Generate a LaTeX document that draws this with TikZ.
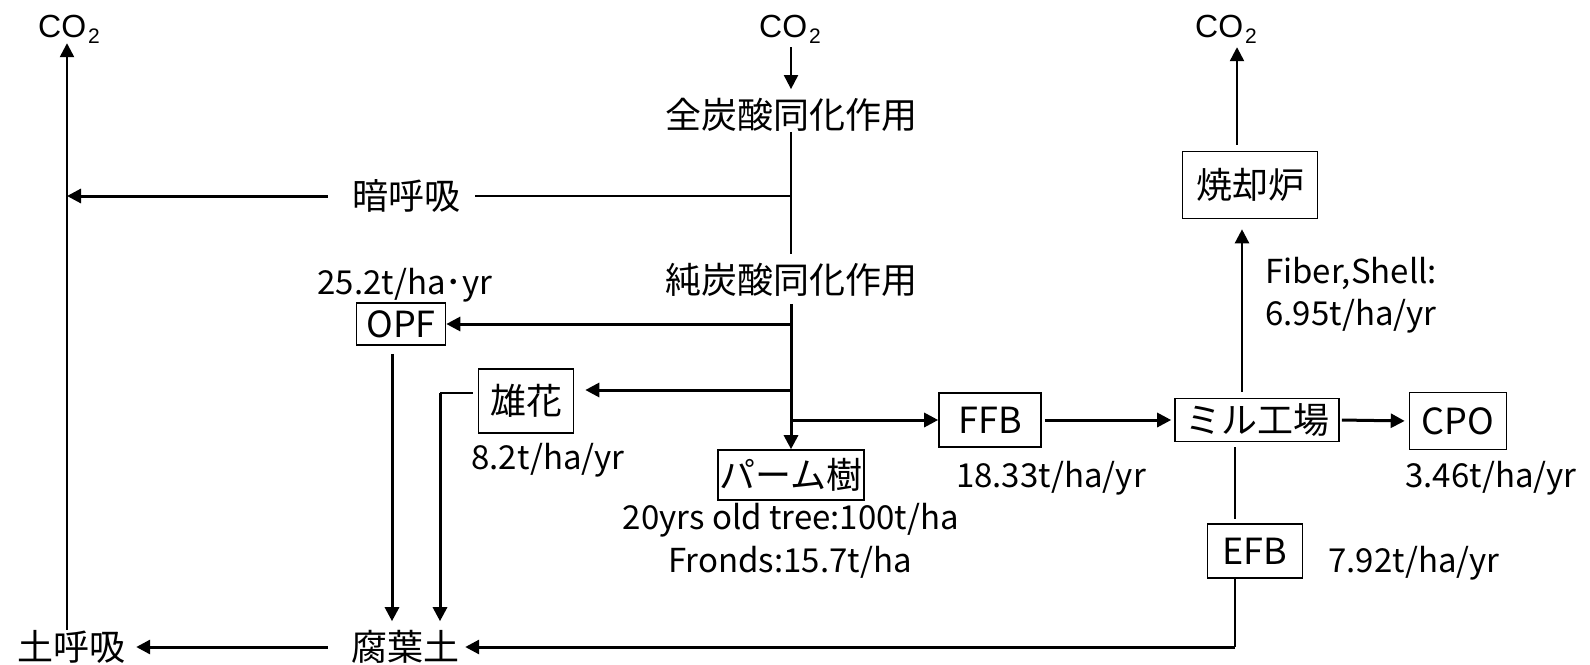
\documentclass[tikz,border=0pt]{standalone}
\usepackage{fontspec}
\setmainfont{Noto Sans CJK JP}
\newfontfamily\arialf{Liberation Sans}
\usetikzlibrary{arrows.meta}
\newcommand{\cotwo}{CO\kern2pt\raisebox{-6pt}{\fontsize{21}{22}\selectfont 2}}
\begin{document}
\begin{tikzpicture}[x={(1pt,0)},y={(0,-1pt)},
  lbl/.style={inner sep=0pt,font=\fontsize{36}{40}\selectfont},
  num/.style={inner sep=0pt,font=\fontsize{33}{38}\selectfont},
  co/.style={inner sep=0pt,anchor=base,font=\arialf\fontsize{32}{34}\selectfont},
  bx/.style={draw,line width=1.6pt,inner sep=0pt,font=\fontsize{36}{40}\selectfont},
  tip/.style={-{Triangle[length=14pt,width=14pt]}},
  thk/.style={line width=3pt},
  thn/.style={line width=2pt},
  mid/.style={line width=2.4pt}]
\useasboundingbox (0,0) rectangle (1590,664);
\fill[white] (0,0) rectangle (1590,664);

% text nodes
\node[co] (co2L) at (69,37) {\cotwo};
\node[co] (co2M) at (790,37) {\cotwo};
\node[co] (co2R) at (1226,37) {\cotwo};
\node[lbl] (total) at (791,115) {全炭酸同化作用};
\node[lbl] (net) at (791,280) {純炭酸同化作用};
\node[lbl] (dark) at (406,196) {暗呼吸};
\node[lbl] (humus) at (405,647) {腐葉土};
\node[lbl] (soil) at (71,647) {土呼吸};

% boxes
\node[bx,minimum width=89pt,minimum height=42pt] (opf) at (401,324) {OPF};
\node[bx,minimum width=95pt,minimum height=64pt] (male) at (526,401) {雄花};
\node[bx,minimum width=146pt,minimum height=50pt] (palm) at (791,475) {パーム樹};
\node[bx,minimum width=102pt,minimum height=54pt] (ffb) at (990,420) {FFB};
\node[bx,minimum width=164pt,minimum height=43pt] (mill) at (1257,420) {ミル工場};
\node[bx,minimum width=97pt,minimum height=57pt] (cpo) at (1458,421) {CPO};
\node[bx,minimum width=135pt,minimum height=67pt] (inc) at (1250,185) {焼却炉};
\node[bx,minimum width=95pt,minimum height=54pt] (efb) at (1255,551) {EFB};

% value labels
\node[num] (lopf) at (405,285) {25.2t/ha･yr};
\node[num] (lmale) at (548,460) {8.2t/ha/yr};
\node[num] (lpalm1) at (791,520) {20yrs old tree:100t/ha};
\node[num] (lpalm2) at (790,562) {Fronds:15.7t/ha};
\node[num] (lffb) at (1051,478) {18.33t/ha/yr};
\node[num] (lcpo) at (1491,478) {3.46t/ha/yr};
\node[num] (lefb) at (1414,563) {7.92t/ha/yr};
\node[num,anchor=west] (lfib1) at (1265,273) {Fiber,Shell:};
\node[num,anchor=west] (lfib2) at (1265,316) {6.95t/ha/yr};

% helper coordinates
\coordinate (colL) at (67,0);
\coordinate (trunk) at (791,0);
\coordinate (oL) at (392,0);
\coordinate (mj) at (791,390);
\coordinate (mL) at (440,393);
\coordinate (uL) at (1242,0);
\coordinate (uR) at (1237,0);
\coordinate (dL) at (1235,0);

% left column
\draw[mid,tip] (colL |- soil.north) -- (colL |- co2L.south);
\draw[thk,tip,shorten <=24pt] (dark.west) -- (colL |- dark.west);
\draw[thn,shorten <=15pt] (dark.east) -- (trunk |- dark.east);

% centre column
\draw[thn,tip,shorten <=4pt,shorten >=9pt] (co2M.south -| trunk) -- (total.north);
\draw[thn,shorten >=9pt] (total.south) -- (net.north);
\draw[thk,tip,shorten <=7pt] (net.south) -- (palm.north);
\draw[thk,tip] (trunk |- opf.east) -- (opf.east);
\draw[thk,tip,shorten >=11pt] (mj) -- (mj -| male.east);
\draw[thk,tip] (trunk |- ffb.west) -- (ffb.west);

% litter to humus
\draw[thk,tip,shorten <=8pt,shorten >=9pt] (oL |- opf.south) -- (oL |- humus.north);
\draw[thn,shorten <=5pt] (male.west |- mL) -- (mL);
\draw[thk,tip,shorten >=9pt] (mL) -- (mL |- humus.north);

% mill chain
\draw[thk,tip,shorten <=3pt,shorten >=3pt] (ffb.east) -- (mill.west);
\draw[thk,tip,shorten <=2pt,shorten >=4pt] (mill.east) -- (cpo.west);
\draw[mid,tip,shorten <=6pt,shorten >=10pt] (uL |- mill.north) -- (uL |- inc.south);
\draw[mid,tip,shorten <=6pt,shorten >=4pt] (uR |- inc.north) -- (uR |- co2R.south);
\draw[thn,shorten <=5pt,shorten >=4pt] (dL |- mill.south) -- (dL |- efb.north);
\draw[thn] (dL |- efb.south) -- (dL |- humus.east);
\draw[thk,tip,shorten >=6pt] (dL |- humus.east) -- (humus.east);
\draw[thk,tip,shorten <=23pt,shorten >=11pt] (humus.west) -- (soil.east);
\end{tikzpicture}
\end{document}
